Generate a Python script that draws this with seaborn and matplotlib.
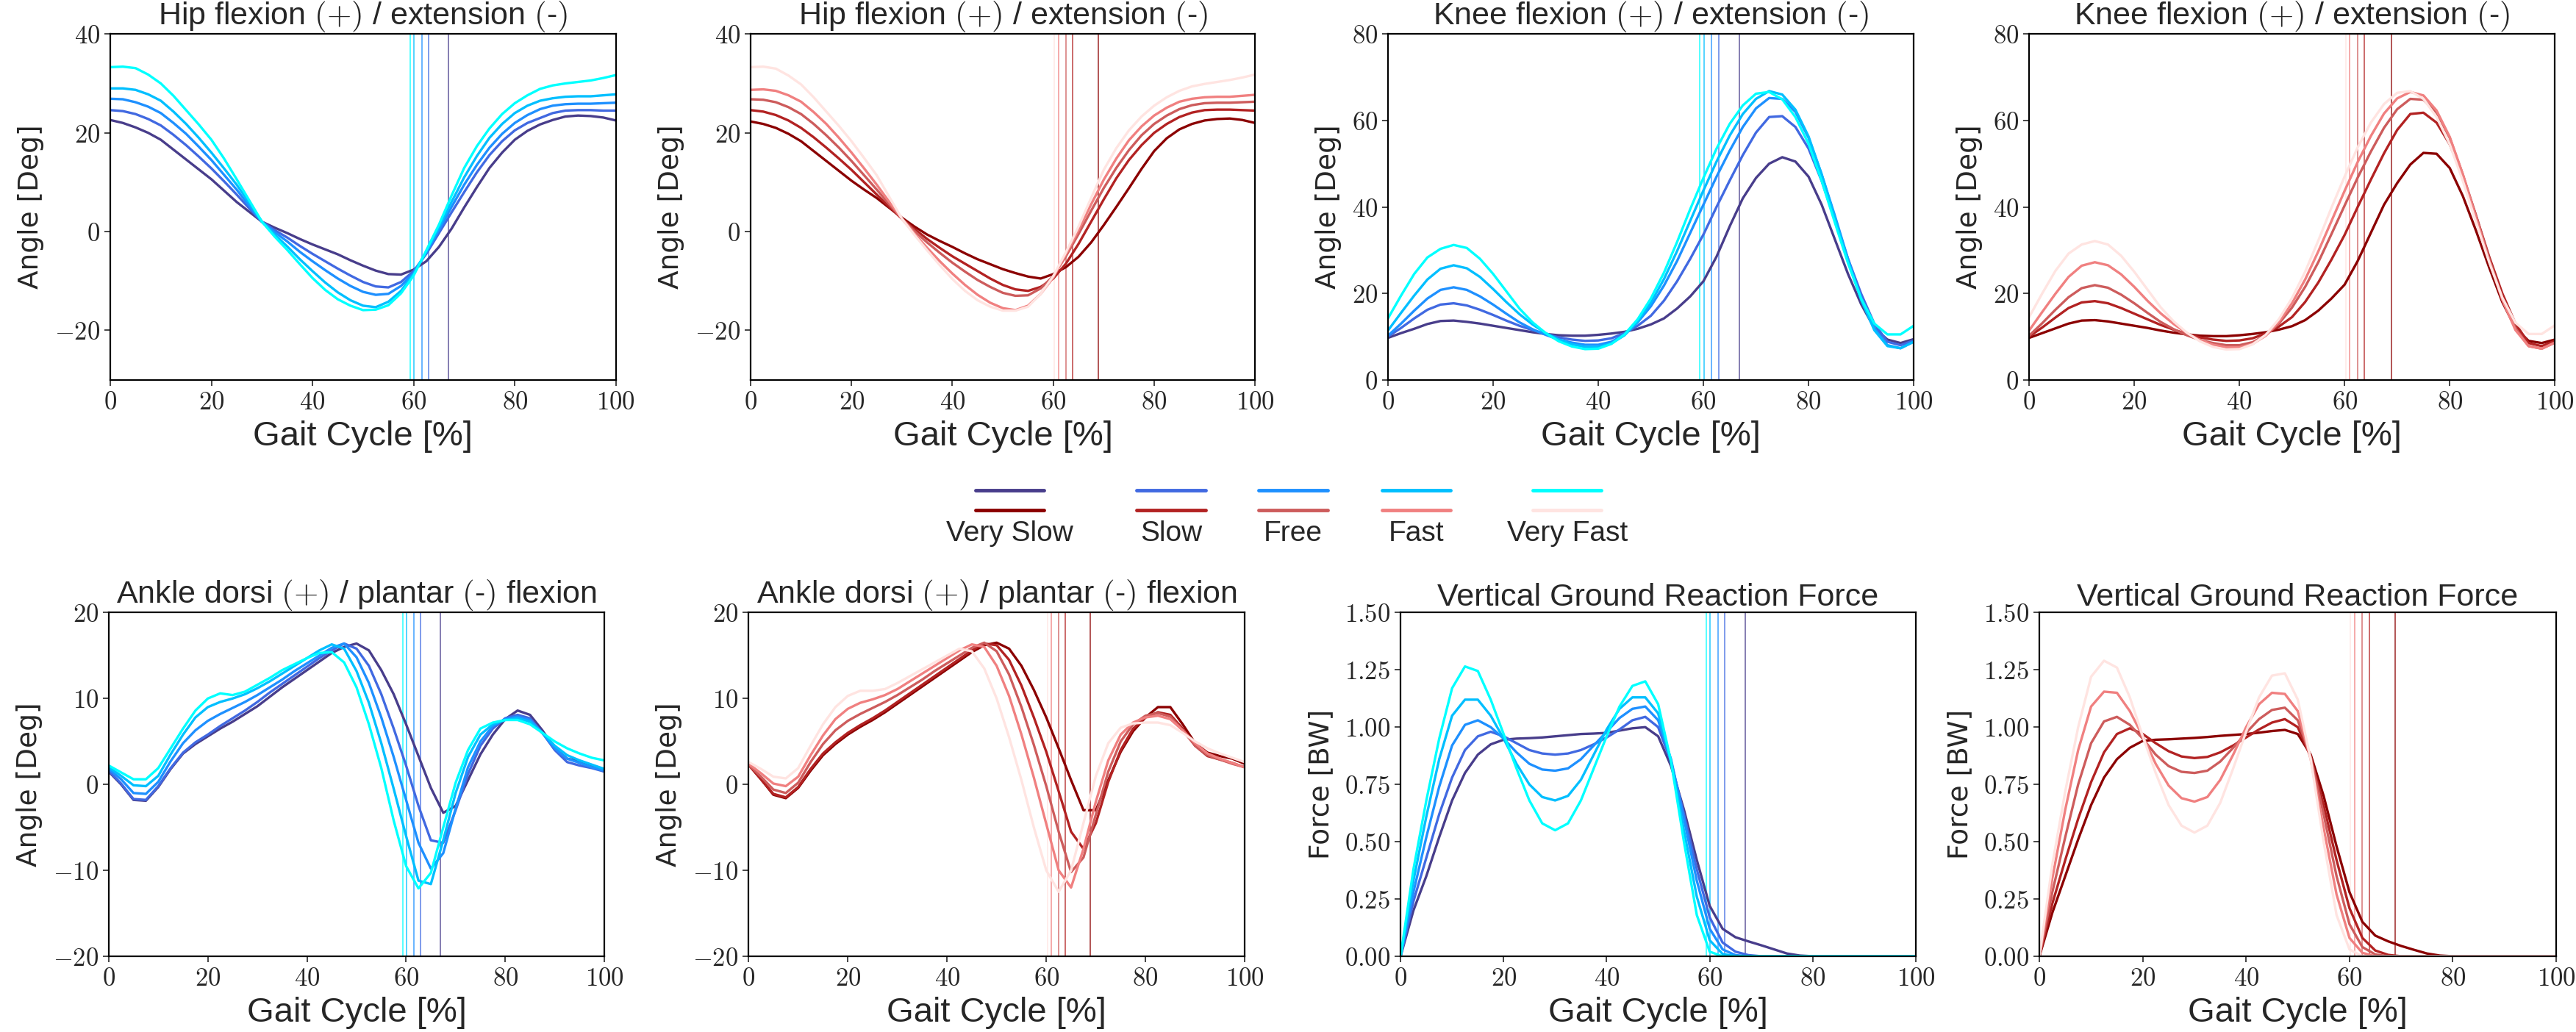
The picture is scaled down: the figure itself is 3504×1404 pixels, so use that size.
import numpy as np
import pandas as pd
import matplotlib
matplotlib.use('Agg')
import matplotlib.pyplot as plt
from matplotlib.lines import Line2D
from matplotlib.ticker import FuncFormatter
import seaborn as sns

# gait cycle grid [%], 2.5 % steps
cycle = np.arange(0, 100.1, 2.5)

speeds = ['Very Slow', 'Slow', 'Free', 'Fast', 'Very Fast']
blue_colors = ['darkslateblue', 'royalblue', 'dodgerblue', 'deepskyblue', 'cyan']
red_colors = ['darkred', 'firebrick', 'indianred', 'lightcoral', 'mistyrose']

# toe-off [% gait cycle]
toe_off_blue = [66.9, 62.9, 61.6, 60.1, 59.3]
toe_off_red = [68.9, 63.8, 62.5, 61.0, 60.2]

# ---- hip flexion/extension [deg] ----
hip_blue_vs = [22.6, 22.0, 21.1, 20.0, 18.6, 16.6, 14.6, 12.6, 10.6, 8.3, 6.0, 4.0, 2.0, 0.8, -0.3, -1.5, -2.6, -3.6, -4.6, -5.8,
               -6.9, -7.9, -8.6, -8.7, -7.7, -6.0, -3.1, 0.6, 4.9, 9.0, 12.9, 16.0, 18.6, 20.4, 21.7, 22.6, 23.3, 23.5, 23.4, 23.1, 22.5]
hip_blue_s = [24.6, 24.4, 23.8, 22.8, 21.5, 19.6, 17.5, 15.2, 12.8, 10.2, 7.5, 4.7, 2.0, 0.3, -1.2, -2.9, -4.5, -6.0, -7.5, -8.9,
              -10.2, -11.1, -11.3, -10.2, -8.0, -4.5, -0.3, 3.9, 8.0, 12.0, 15.5, 18.3, 20.5, 22.0, 23.0, 24.0, 24.5, 24.6, 24.6, 24.5, 24.5]
hip_blue_f = [26.9, 26.8, 26.2, 25.3, 24.0, 22.0, 19.8, 17.2, 14.5, 11.5, 8.5, 5.2, 2.0, -0.1, -2.0, -4.1, -6.0, -7.8, -9.5, -11.0,
              -12.2, -12.8, -12.6, -11.0, -8.4, -4.2, 0.3, 5.0, 9.5, 13.5, 17.0, 19.8, 22.0, 23.6, 24.8, 25.5, 25.8, 25.9, 25.9, 26.0, 26.1]
hip_blue_fa = [29.0, 29.0, 28.7, 27.8, 26.5, 24.3, 21.8, 19.0, 16.0, 12.8, 9.5, 5.8, 2.0, -0.6, -3.0, -5.6, -8.0, -10.3, -12.3, -13.9,
               -15.0, -15.3, -14.2, -12.0, -8.6, -4.0, 0.9, 6.0, 11.0, 15.3, 19.0, 21.8, 24.0, 25.5, 26.5, 27.0, 27.3, 27.4, 27.4, 27.6, 27.8]
hip_blue_vf = [33.3, 33.4, 33.1, 31.8, 30.0, 27.5, 24.6, 21.7, 18.6, 14.8, 10.6, 6.3, 2.0, -1.0, -3.7, -6.6, -9.4, -11.8, -13.7, -15.0,
               -15.9, -15.8, -14.9, -12.5, -8.9, -3.8, 1.4, 7.3, 12.9, 17.3, 20.9, 23.8, 26.0, 27.6, 28.9, 29.6, 30.0, 30.3, 30.6, 31.1, 31.7]

hip_red_vs = [22.3, 21.8, 21.0, 19.8, 18.3, 16.3, 14.3, 12.3, 10.3, 8.5, 6.8, 4.8, 2.8, 1.0, -0.6, -1.9, -3.1, -4.4, -5.6, -6.6,
              -7.6, -8.4, -9.1, -9.5, -8.6, -7.2, -5.1, -2.2, 1.3, 5.0, 8.8, 12.7, 16.3, 18.9, 20.7, 21.8, 22.5, 22.8, 22.9, 22.6, 22.0]
hip_red_s = [24.6, 24.3, 23.6, 22.5, 21.0, 19.1, 17.0, 14.8, 12.5, 10.0, 7.5, 5.0, 2.6, 0.5, -1.5, -3.3, -5.0, -6.5, -8.0, -9.5,
             -10.8, -11.7, -12.0, -11.2, -9.5, -6.5, -2.5, 2.0, 6.5, 10.8, 14.5, 17.5, 20.0, 21.8, 23.2, 24.1, 24.6, 24.7, 24.7, 24.6, 24.5]
hip_red_f = [26.8, 26.7, 26.2, 25.2, 23.8, 21.8, 19.5, 17.0, 14.3, 11.4, 8.5, 5.5, 2.6, 0.1, -2.2, -4.3, -6.3, -8.1, -9.8, -11.2,
             -12.4, -13.0, -12.9, -11.5, -9.0, -5.0, -0.5, 4.2, 8.8, 12.9, 16.5, 19.5, 21.8, 23.5, 24.8, 25.6, 26.0, 26.1, 26.1, 26.2, 26.3]
hip_red_fa = [28.7, 28.8, 28.5, 27.6, 26.3, 24.2, 21.8, 19.0, 16.0, 12.8, 9.5, 6.0, 2.6, -0.4, -3.3, -6.0, -8.5, -10.8, -12.8, -14.4,
              -15.5, -15.9, -15.0, -12.6, -9.3, -4.6, 0.3, 5.5, 10.5, 14.8, 18.5, 21.3, 23.5, 25.1, 26.3, 26.9, 27.2, 27.3, 27.3, 27.5, 27.7]
hip_red_vf = [33.3, 33.4, 33.0, 31.6, 29.8, 27.2, 24.3, 21.4, 18.3, 14.9, 11.4, 7.0, 2.6, -0.7, -3.8, -6.8, -9.6, -12.0, -13.9, -15.2,
              -16.0, -16.0, -15.2, -12.6, -9.0, -4.2, 1.0, 6.8, 12.5, 16.9, 20.5, 23.3, 25.5, 27.2, 28.5, 29.4, 29.9, 30.3, 30.7, 31.2, 31.8]

# ---- knee flexion/extension [deg] ----
knee_blue_vs = [9.7, 10.8, 11.8, 12.9, 13.6, 13.7, 13.4, 13.0, 12.5, 12.0, 11.5, 11.0, 10.6, 10.3, 10.2, 10.2, 10.4, 10.7, 11.1, 11.8,
                12.8, 14.2, 16.5, 19.3, 22.8, 28.5, 35.5, 42.0, 46.7, 50.0, 51.5, 50.5, 47.0, 40.5, 32.5, 24.5, 17.5, 12.0, 9.3, 8.5, 9.4]
knee_blue_s = [10.0, 12.0, 14.2, 16.2, 17.4, 17.7, 17.2, 16.2, 15.0, 13.7, 12.5, 11.5, 10.6, 9.8, 9.3, 9.0, 9.1, 9.6, 10.8, 12.5,
               14.8, 18.3, 22.8, 28.0, 33.6, 40.0, 46.1, 52.0, 57.2, 60.8, 61.0, 58.5, 53.5, 46.0, 37.0, 28.0, 19.9, 13.0, 8.8, 8.0, 9.1]
knee_blue_f = [10.2, 13.0, 16.0, 18.8, 20.8, 21.4, 20.8, 19.3, 17.4, 15.3, 13.3, 11.7, 10.4, 9.3, 8.6, 8.1, 8.1, 8.8, 10.5, 13.3,
               17.0, 21.8, 27.5, 34.0, 40.5, 47.0, 53.0, 58.5, 62.8, 65.2, 65.0, 62.0, 56.0, 47.5, 38.0, 28.0, 19.0, 12.0, 8.0, 7.3, 8.8]
knee_blue_fa = [11.4, 15.5, 19.5, 23.2, 25.7, 26.5, 25.8, 23.8, 21.0, 18.0, 15.2, 12.8, 10.8, 9.3, 8.2, 7.6, 7.6, 8.4, 10.3, 13.5,
                17.8, 23.3, 29.8, 36.8, 43.8, 50.5, 56.5, 61.5, 65.0, 66.8, 66.0, 62.5, 56.3, 47.5, 37.5, 27.5, 18.5, 11.5, 7.8, 7.3, 8.8]
knee_blue_vf = [14.2, 19.5, 24.5, 28.3, 30.3, 31.2, 30.5, 28.0, 24.5, 20.5, 16.5, 13.3, 10.8, 8.9, 7.7, 7.1, 7.2, 8.3, 10.5, 14.0,
                18.8, 24.8, 31.9, 39.5, 46.7, 53.5, 59.2, 63.5, 66.2, 66.6, 64.9, 60.8, 54.6, 46.0, 36.4, 27.0, 18.8, 13.0, 10.5, 10.5, 12.5]

knee_red_vs = [9.7, 10.8, 11.9, 13.0, 13.7, 13.8, 13.5, 13.0, 12.5, 12.0, 11.4, 10.9, 10.5, 10.2, 10.1, 10.1, 10.3, 10.6, 11.0, 11.6,
               12.4, 13.8, 16.0, 18.8, 22.0, 27.5, 34.0, 40.5, 45.5, 49.8, 52.5, 52.3, 49.0, 42.5, 34.5, 26.0, 18.0, 12.0, 9.0, 8.5, 9.3]
knee_red_s = [10.0, 12.1, 14.4, 16.6, 17.9, 18.2, 17.7, 16.6, 15.3, 14.0, 12.7, 11.6, 10.6, 9.8, 9.3, 9.0, 9.1, 9.6, 10.7, 12.3,
              14.5, 18.0, 22.5, 27.8, 33.5, 40.0, 46.3, 52.4, 57.8, 61.5, 61.8, 59.5, 54.5, 47.0, 38.0, 28.5, 20.0, 13.0, 8.5, 7.8, 9.0]
knee_red_f = [10.2, 13.1, 16.2, 19.1, 21.2, 21.9, 21.3, 19.7, 17.7, 15.5, 13.4, 11.7, 10.3, 9.2, 8.5, 8.0, 8.0, 8.7, 10.3, 13.0,
              16.7, 21.5, 27.2, 33.7, 40.3, 46.8, 52.8, 58.3, 62.6, 65.0, 64.8, 61.8, 56.0, 47.5, 38.0, 28.0, 19.0, 12.0, 7.8, 7.2, 8.6]
knee_red_fa = [11.4, 15.7, 19.9, 23.8, 26.4, 27.2, 26.5, 24.4, 21.5, 18.3, 15.4, 12.9, 10.8, 9.2, 8.1, 7.5, 7.5, 8.3, 10.2, 13.4,
               17.7, 23.2, 29.7, 36.7, 43.7, 50.4, 56.4, 61.6, 65.1, 66.6, 65.8, 62.3, 56.2, 47.5, 37.5, 27.5, 18.5, 11.5, 7.8, 7.2, 8.6]
knee_red_vf = [14.5, 20.0, 25.2, 29.2, 31.3, 32.1, 31.3, 28.7, 25.0, 20.9, 16.8, 13.5, 10.9, 8.9, 7.6, 7.0, 7.1, 8.2, 10.4, 14.0,
               18.9, 25.0, 32.2, 39.8, 47.0, 53.8, 59.5, 63.8, 66.4, 66.8, 65.0, 60.8, 54.5, 46.0, 36.5, 27.2, 19.0, 13.2, 10.6, 10.6, 12.6]

# ---- ankle dorsi/plantar flexion [deg] ----
ankle_blue_vs = [1.5, 0.0, -1.8, -1.9, -0.3, 1.8, 3.6, 4.7, 5.6, 6.5, 7.3, 8.2, 9.1, 10.2, 11.3, 12.3, 13.3, 14.3, 15.3, 16.0,
                 16.4, 15.6, 13.3, 10.5, 7.0, 3.3, -0.4, -3.3, -2.5, 0.5, 3.5, 5.8, 7.6, 8.6, 8.1, 6.3, 4.2, 3.0, 2.7, 2.2, 1.5]
ankle_blue_s = [1.6, 0.1, -1.7, -1.8, -0.2, 1.9, 3.7, 4.9, 5.8, 6.8, 7.7, 8.6, 9.6, 10.7, 11.7, 12.7, 13.7, 14.7, 15.6, 16.4,
                15.8, 13.8, 10.5, 6.5, 2.2, -2.5, -6.5, -6.8, -3.0, 1.2, 4.5, 6.5, 7.7, 8.1, 7.7, 6.0, 4.0, 2.6, 2.2, 1.9, 1.5]
ankle_blue_f = [1.8, 0.6, -1.0, -1.1, 0.3, 2.7, 4.8, 6.3, 7.4, 8.2, 8.9, 9.6, 10.4, 11.3, 12.2, 13.2, 14.1, 15.0, 15.9, 16.4,
                14.8, 11.8, 7.8, 3.2, -1.8, -6.8, -9.8, -8.0, -2.8, 2.0, 5.0, 6.8, 7.6, 7.9, 7.5, 6.0, 4.2, 3.0, 2.5, 2.0, 1.6]
ankle_blue_fa = [2.0, 1.0, -0.1, -0.2, 1.0, 3.5, 5.8, 7.8, 9.0, 9.6, 10.0, 10.5, 11.2, 12.0, 12.9, 13.8, 14.7, 15.6, 16.3, 15.8,
                 13.2, 9.5, 4.8, -0.5, -6.0, -11.2, -11.6, -6.5, -1.0, 3.2, 5.8, 7.0, 7.5, 7.7, 7.3, 6.0, 4.5, 3.4, 2.8, 2.3, 1.8]
ankle_blue_vf = [2.2, 1.4, 0.6, 0.6, 1.9, 4.2, 6.5, 8.6, 10.0, 10.6, 10.4, 10.8, 11.6, 12.4, 13.3, 14.0, 14.7, 15.3, 15.4, 14.2,
                 11.3, 7.0, 1.9, -4.2, -9.5, -12.1, -10.3, -5.0, 0.2, 4.0, 6.5, 7.2, 7.5, 7.5, 7.0, 6.0, 5.0, 4.2, 3.6, 3.1, 2.8]

ankle_red_vs = [2.3, 0.6, -1.2, -1.6, -0.4, 1.6, 3.4, 4.7, 5.8, 6.7, 7.5, 8.4, 9.4, 10.4, 11.4, 12.4, 13.4, 14.4, 15.4, 16.2,
                16.5, 15.8, 13.8, 11.0, 7.8, 4.2, 0.5, -3.0, -3.0, 0.5, 3.8, 6.2, 7.8, 9.0, 9.0, 7.0, 4.8, 3.7, 3.3, 3.0, 2.4]
ankle_red_s = [2.3, 0.6, -1.1, -1.5, -0.3, 1.8, 3.6, 4.9, 6.0, 6.9, 7.7, 8.6, 9.6, 10.6, 11.6, 12.6, 13.6, 14.6, 15.6, 16.4,
               16.2, 14.5, 11.5, 7.8, 3.8, -0.8, -5.5, -7.5, -4.5, 0.3, 4.0, 6.5, 7.8, 8.4, 8.1, 6.5, 4.5, 3.3, 2.9, 2.5, 2.0]
ankle_red_f = [2.3, 0.9, -0.6, -1.0, 0.2, 2.6, 4.7, 6.3, 7.4, 8.2, 8.9, 9.6, 10.4, 11.3, 12.2, 13.2, 14.1, 15.0, 15.9, 16.5,
               15.5, 12.8, 9.0, 4.6, -0.2, -5.5, -10.2, -8.5, -3.5, 1.5, 5.0, 7.0, 8.0, 8.3, 7.9, 6.3, 4.5, 3.4, 2.9, 2.4, 2.0]
ankle_red_fa = [2.4, 1.3, 0.1, -0.2, 0.9, 3.4, 5.7, 7.6, 8.8, 9.5, 9.9, 10.4, 11.1, 12.0, 12.9, 13.8, 14.7, 15.6, 16.3, 16.0,
                13.8, 10.3, 5.8, 0.8, -4.6, -10.0, -12.0, -7.5, -2.0, 2.8, 5.8, 7.2, 7.8, 8.0, 7.6, 6.3, 4.8, 3.6, 3.0, 2.5, 2.0]
ankle_red_vf = [2.6, 1.8, 0.9, 0.7, 1.9, 4.5, 7.0, 9.0, 10.3, 10.9, 10.9, 11.1, 11.8, 12.6, 13.4, 14.2, 15.0, 15.8, 15.5, 13.5,
                10.0, 5.5, 0.5, -5.0, -10.0, -12.5, -10.0, -4.5, 1.0, 4.8, 6.6, 7.1, 7.2, 7.2, 6.9, 6.0, 5.0, 4.2, 3.6, 3.1, 2.6]

# ---- vertical ground reaction force [BW] ----
grf_blue_vs = [0.0, 0.2, 0.35, 0.52, 0.68, 0.8, 0.88, 0.925, 0.945, 0.95, 0.952, 0.955, 0.96, 0.965, 0.97, 0.972, 0.975, 0.985, 0.995, 1.0,
               0.96, 0.83, 0.64, 0.42, 0.22, 0.12, 0.083, 0.065, 0.048, 0.03, 0.012, 0.003] + [0.0] * 9
grf_blue_s = [0.0, 0.24, 0.43, 0.62, 0.78, 0.9, 0.96, 0.98, 0.96, 0.93, 0.9, 0.885, 0.88, 0.885, 0.9, 0.925, 0.955, 0.99, 1.03, 1.045,
              1.0, 0.85, 0.62, 0.38, 0.17, 0.06, 0.02, 0.005] + [0.0] * 13
grf_blue_f = [0.0, 0.28, 0.52, 0.74, 0.92, 1.01, 1.03, 1.0, 0.95, 0.89, 0.84, 0.815, 0.81, 0.82, 0.86, 0.92, 0.98, 1.04, 1.08, 1.09,
              1.03, 0.86, 0.6, 0.33, 0.12, 0.03, 0.005] + [0.0] * 14
grf_blue_fa = [0.0, 0.33, 0.61, 0.86, 1.05, 1.12, 1.12, 1.05, 0.95, 0.84, 0.75, 0.695, 0.68, 0.7, 0.77, 0.88, 0.99, 1.08, 1.13, 1.13,
               1.06, 0.85, 0.55, 0.26, 0.07, 0.01] + [0.0] * 15
grf_blue_vf = [0.0, 0.38, 0.68, 0.95, 1.17, 1.265, 1.245, 1.12, 0.97, 0.82, 0.68, 0.58, 0.55, 0.58, 0.68, 0.82, 0.96, 1.09, 1.18, 1.2,
               1.1, 0.85, 0.5, 0.18, 0.02] + [0.0] * 16

grf_red_vs = [0.0, 0.19, 0.35, 0.51, 0.66, 0.78, 0.86, 0.91, 0.94, 0.945, 0.947, 0.95, 0.953, 0.957, 0.962, 0.966, 0.97, 0.976, 0.983, 0.988,
              0.97, 0.88, 0.7, 0.48, 0.28, 0.15, 0.09, 0.065, 0.045, 0.028, 0.012, 0.003] + [0.0] * 9
grf_red_s = [0.0, 0.23, 0.42, 0.6, 0.76, 0.89, 0.97, 0.995, 0.97, 0.93, 0.895, 0.872, 0.865, 0.87, 0.89, 0.92, 0.955, 0.99, 1.02, 1.035,
             1.0, 0.87, 0.66, 0.42, 0.21, 0.08, 0.025, 0.006] + [0.0] * 13
grf_red_f = [0.0, 0.28, 0.52, 0.75, 0.93, 1.025, 1.045, 1.01, 0.95, 0.88, 0.83, 0.805, 0.8, 0.81, 0.85, 0.91, 0.975, 1.035, 1.075, 1.085,
             1.03, 0.87, 0.62, 0.35, 0.14, 0.04, 0.008] + [0.0] * 14
grf_red_fa = [0.0, 0.34, 0.64, 0.9, 1.09, 1.155, 1.15, 1.07, 0.96, 0.84, 0.745, 0.69, 0.675, 0.695, 0.77, 0.88, 1.0, 1.1, 1.15, 1.145,
              1.07, 0.86, 0.56, 0.27, 0.08, 0.015] + [0.0] * 15
grf_red_vf = [0.0, 0.4, 0.72, 1.0, 1.22, 1.29, 1.26, 1.13, 0.96, 0.8, 0.66, 0.57, 0.54, 0.57, 0.67, 0.82, 0.98, 1.13, 1.225, 1.235,
              1.12, 0.86, 0.5, 0.18, 0.03] + [0.0] * 16

hip_title = r'Hip flexion $(+)$ / extension $($-$)$'
knee_title = r'Knee flexion $(+)$ / extension $($-$)$'
ankle_title = r'Ankle dorsi $(+)$ / plantar $($-$)$ flexion'
grf_title = 'Vertical Ground Reaction Force'


def to_long(series):
    frames = []
    for name, vals in zip(speeds, series):
        frames.append(pd.DataFrame({'cycle': cycle, 'value': vals, 'speed': name}))
    return pd.concat(frames, ignore_index=True)


def draw_panel(ax, series, colors, toe_off, title, ylabel, ylim, yticks, fmt):
    df = to_long(series)
    sns.lineplot(data=df, x='cycle', y='value', hue='speed', hue_order=speeds,
                 palette=colors, linewidth=2.4, legend=False, ax=ax)
    for t, c in zip(toe_off, colors):
        ax.axvline(t, color=c, lw=1.1, alpha=0.85, zorder=1)
    ax.set_xlim(0, 100)
    ax.set_ylim(*ylim)
    ax.set_xticks([0, 20, 40, 60, 80, 100])
    ax.set_yticks(yticks)
    ax.xaxis.set_major_formatter(FuncFormatter(lambda v, p: f'${v:g}$'))
    ax.yaxis.set_major_formatter(FuncFormatter(fmt))
    ax.tick_params(labelsize=25, length=6, width=1.2, pad=4)
    for sp in ax.spines.values():
        sp.set_visible(True)
        sp.set_linewidth(1.6)
        sp.set_color('black')
    ax.set_title(title, fontsize=31, pad=-1)
    ax.set_xlabel('Gait Cycle [%]', fontsize=34, labelpad=6)
    ax.set_ylabel(ylabel, fontsize=27, labelpad=10, family=['DejaVu Sans'])


sns.set_style('ticks')
plt.rcParams['font.family'] = ['Liberation Sans', 'DejaVu Sans']
plt.rcParams['mathtext.fontset'] = 'cm'

fig = plt.figure(figsize=(35.04, 14.04), dpi=100)

deg_fmt = lambda v, p: f'${v:g}$'
bw_fmt = lambda v, p: f'${v:.2f}$'

top_rects = [[0.0428, 0.632, 0.1963, 0.335], [0.2914, 0.632, 0.1958, 0.335],
             [0.5388, 0.632, 0.2041, 0.335], [0.7877, 0.632, 0.2041, 0.335]]
bot_rects = [[0.0422, 0.0734, 0.1924, 0.333], [0.2906, 0.0734, 0.1926, 0.333],
             [0.5437, 0.0734, 0.2000, 0.333], [0.7917, 0.0734, 0.2006, 0.333]]

hip_blue = [hip_blue_vs, hip_blue_s, hip_blue_f, hip_blue_fa, hip_blue_vf]
hip_red = [hip_red_vs, hip_red_s, hip_red_f, hip_red_fa, hip_red_vf]
knee_blue = [knee_blue_vs, knee_blue_s, knee_blue_f, knee_blue_fa, knee_blue_vf]
knee_red = [knee_red_vs, knee_red_s, knee_red_f, knee_red_fa, knee_red_vf]
ankle_blue = [ankle_blue_vs, ankle_blue_s, ankle_blue_f, ankle_blue_fa, ankle_blue_vf]
ankle_red = [ankle_red_vs, ankle_red_s, ankle_red_f, ankle_red_fa, ankle_red_vf]
grf_blue = [grf_blue_vs, grf_blue_s, grf_blue_f, grf_blue_fa, grf_blue_vf]
grf_red = [grf_red_vs, grf_red_s, grf_red_f, grf_red_fa, grf_red_vf]

angle_ticks_hip = [-20, 0, 20, 40]
angle_ticks_knee = [0, 20, 40, 60, 80]
angle_ticks_ankle = [-20, -10, 0, 10, 20]
force_ticks = [0, 0.25, 0.5, 0.75, 1.0, 1.25, 1.5]

panels = [
    (top_rects[0], hip_blue, blue_colors, toe_off_blue, hip_title, 'Angle [Deg]', (-30, 40), angle_ticks_hip, deg_fmt),
    (top_rects[1], hip_red, red_colors, toe_off_red, hip_title, 'Angle [Deg]', (-30, 40), angle_ticks_hip, deg_fmt),
    (top_rects[2], knee_blue, blue_colors, toe_off_blue, knee_title, 'Angle [Deg]', (0, 80), angle_ticks_knee, deg_fmt),
    (top_rects[3], knee_red, red_colors, toe_off_red, knee_title, 'Angle [Deg]', (0, 80), angle_ticks_knee, deg_fmt),
    (bot_rects[0], ankle_blue, blue_colors, toe_off_blue, ankle_title, 'Angle [Deg]', (-20, 20), angle_ticks_ankle, deg_fmt),
    (bot_rects[1], ankle_red, red_colors, toe_off_red, ankle_title, 'Angle [Deg]', (-20, 20), angle_ticks_ankle, deg_fmt),
    (bot_rects[2], grf_blue, blue_colors, toe_off_blue, grf_title, 'Force [BW]', (0, 1.5), force_ticks, bw_fmt),
    (bot_rects[3], grf_red, red_colors, toe_off_red, grf_title, 'Force [BW]', (0, 1.5), force_ticks, bw_fmt),
]

for rect, series, cols, toe, title, ylab, ylim, yt, fmt in panels:
    ax = fig.add_axes(rect)
    draw_panel(ax, series, cols, toe, title, ylab, ylim, yt, fmt)

# shared legend: blue swatch above red swatch, label underneath
legend_x = [0.392, 0.4546, 0.502, 0.5497, 0.6084]
half_w = 0.0133
for cx, name, cb, cr in zip(legend_x, speeds, blue_colors, red_colors):
    fig.add_artist(Line2D([cx - half_w, cx + half_w], [0.525, 0.525], color=cb, lw=3.5,
                          transform=fig.transFigure))
    fig.add_artist(Line2D([cx - half_w, cx + half_w], [0.506, 0.506], color=cr, lw=3.5,
                          transform=fig.transFigure))
    fig.text(cx, 0.483, name, ha='center', va='center', fontsize=28)

fig.savefig('out.png', dpi=100)
